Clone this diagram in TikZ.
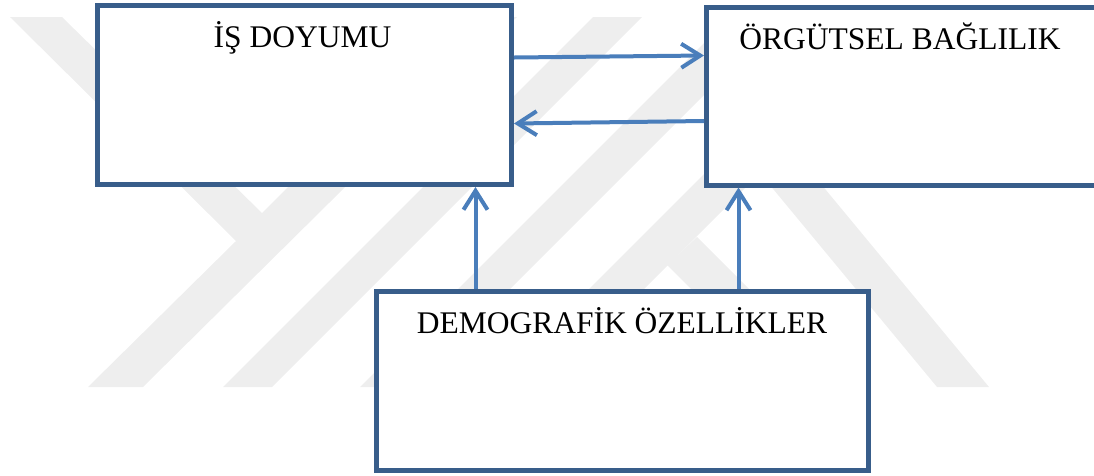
\documentclass[tikz,border=0pt]{standalone}
\usepackage{fontspec}
\setmainfont{Liberation Serif}
\usetikzlibrary{arrows.meta}
\definecolor{boxblue}{RGB}{56,93,138}
\definecolor{arrowblue}{RGB}{74,126,187}
\definecolor{markgray}{RGB}{238,238,238}
\begin{document}
\begin{tikzpicture}[x=1pt,y=-1pt,
  box/.style={draw=boxblue,fill=white,line width=5pt,rectangle,inner sep=0pt},
  title/.style={font=\fontsize{31.5}{36}\selectfont,anchor=base,inner sep=0pt},
  link/.style={draw=arrowblue,line width=4pt,-{Straight Barb[length=19pt,width=24pt]}},
  wm/.style={fill=markgray,draw=none}]
\useasboundingbox (0,0) rectangle (1094,475);
\clip (0,0) rectangle (1094,475);

% background logo
\path[wm] (10,17) -- (62,17) -- (262,213) -- (458,17) -- (517,17) -- (143,387) -- (88,387) -- (236,241) -- cycle;
\path[wm] (223,387) -- (272,387) -- (642,17) -- (593,17) -- cycle;
\path[wm] (360,387) -- (412,387) -- (782,17) -- (730,17) -- cycle;
\path[wm] (491,387) -- (546,387) -- (916,17) -- (861,17) -- cycle;
\path[wm] (667,265) -- (697,237) -- (847,387) -- (789,387) -- cycle;
\path[wm] (716,120) -- (768,120) -- (989,387) -- (937,387) -- cycle;

% boxes
\node[box,minimum width=414pt,minimum height=179.5pt] (js) at (304.5,94.75) {};
\node[box,minimum width=390.5pt,minimum height=178pt] (ob) at (901.75,96) {};
\node[box,minimum width=491.5pt,minimum height=179pt] (dm) at (622.25,381) {};

\node[title] (jsT) at (302.5,47) {İŞ DOYUMU};
\node[title] (obT) at (900,49) {ÖRGÜTSEL BAĞLILIK};
\node[title] (dmT) at (622,333) {DEMOGRAFİK ÖZELLİKLER};

% connector heights and columns
\coordinate (h1) at (0,57.5);
\coordinate (h2) at (0,55.5);
\coordinate (h3) at (0,121);
\coordinate (h4) at (0,123.5);
\coordinate (v1) at (475.5,0);
\coordinate (v2) at (738.5,0);

\draw[link] (js.east |- h1) -- (ob.west |- h2);
\draw[link] (ob.west |- h3) -- (js.east |- h4);
\draw[link] (dm.north -| v1) -- (js.south -| v1);
\draw[link] (dm.north -| v2) -- (ob.south -| v2);
\end{tikzpicture}
\end{document}
